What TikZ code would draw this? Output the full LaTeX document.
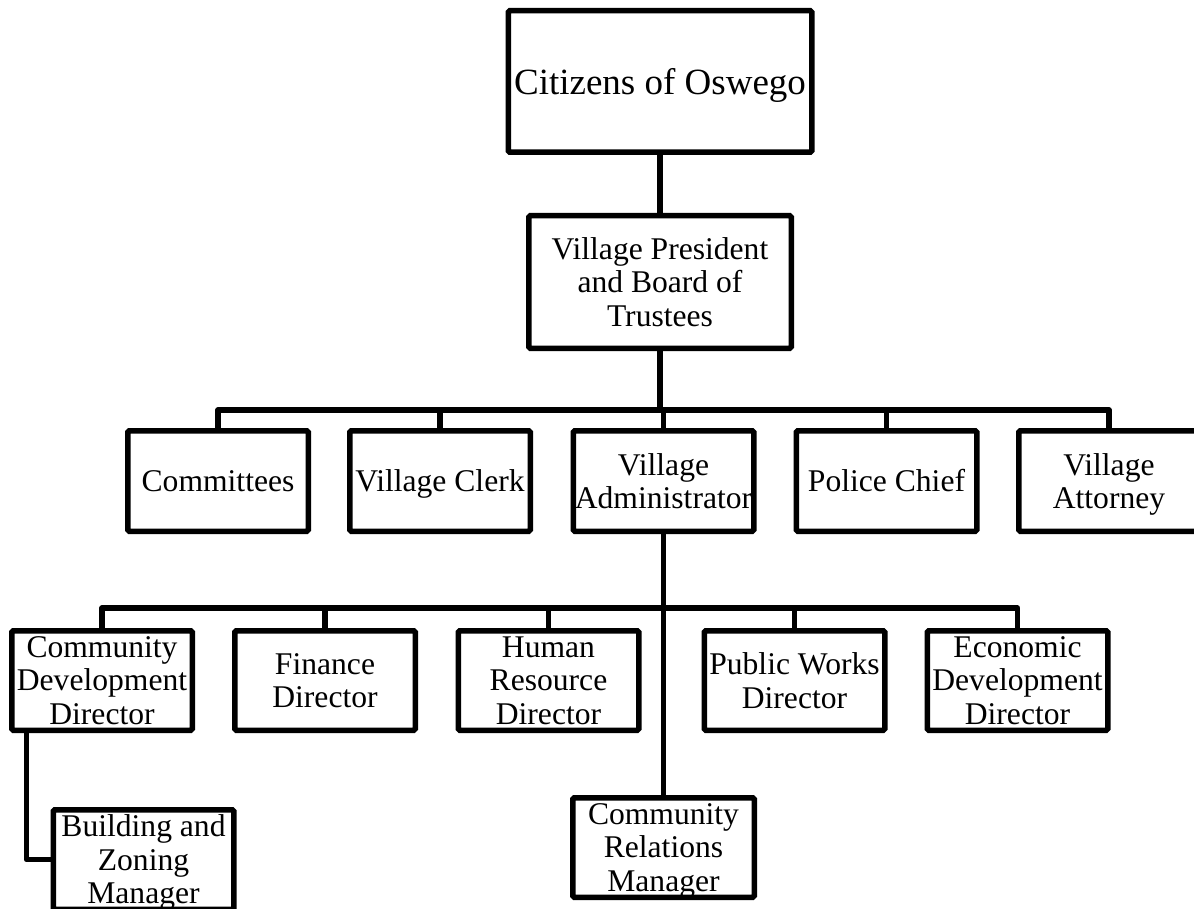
\documentclass[tikz,border=0pt]{standalone}
\usepackage{fontspec}
\setmainfont{Liberation Serif}
\newcommand{\nodep}[1]{\raisebox{0pt}[\height][0pt]{#1}}
\begin{document}
\begin{tikzpicture}[x=1pt,y=-1pt,
  box/.style={draw=black,line width=5.5pt,rounded corners=1.5pt,inner sep=0pt,align=center,
    minimum width=180.5pt,minimum height=99.5pt,
    font=\fontsize{31.6}{33.5}\selectfont},
  conn/.style={draw=black,line width=5.5pt,line join=round}]
\useasboundingbox (0,0) rectangle (1194,909);
\clip (0,0) rectangle (1194,909);
% top levels
\node[box,minimum width=303.5pt,minimum height=141.5pt,font=\fontsize{37}{40}\selectfont] (cit) at (660,81.5) {\nodep{Citizens of Oswego}};
\node[box,minimum width=262.5pt,minimum height=132.5pt] (vp) at (660,282) {Village President\\and Board of\\Trustees};
% second row
\node[box,minimum height=100.5pt] (cmt) at (218,481) {Committees};
\node[box,minimum height=100.5pt] (clk) at (440,481) {\nodep{Village Clerk}};
\node[box,minimum height=100.5pt] (adm) at (663.5,481) {Village\\Administrator};
\node[box,minimum height=100.5pt] (pol) at (886.5,481) {Police Chief};
\node[box,minimum height=100.5pt] (att) at (1109,481) {Village\\\nodep{Attorney}};
% third row
\node[box] (cdd) at (102,680.5) {Community\\Development\\Director};
\node[box] (fin) at (325,680.5) {Finance\\Director};
\node[box] (hr) at (548.5,680.5) {Human\\Resource\\Director};
\node[box] (pw) at (794.5,680.5) {Public Works\\Director};
\node[box] (edd) at (1017.5,680.5) {Economic\\Development\\Director};
% fourth row
\node[box,minimum width=181.5pt] (crm) at (663.5,847.5) {Community\\Relations\\\nodep{Manager}};
\node[box] (bzm) at (143.5,859.5) {Building and\\Zoning\\\nodep{Manager}};
% connectors
\coordinate (bus1) at (660,410);
\coordinate (bus2) at (663.5,608);
\draw[conn] (cit.south) -- (vp.north);
\draw[conn] (vp.south) -- (bus1);
\draw[conn] (cmt.north) |- (bus1) -| (att.north);
\draw[conn] (clk.north) -- (clk.north |- bus1);
\draw[conn] (adm.north) -- (adm.north |- bus1);
\draw[conn] (pol.north) -- (pol.north |- bus1);
\draw[conn] (adm.south) -- (crm.north);
\draw[conn] (cdd.north) |- (bus2) -| (edd.north);
\draw[conn] (fin.north) -- (fin.north |- bus2);
\draw[conn] (hr.north) -- (hr.north |- bus2);
\draw[conn] (pw.north) -- (pw.north |- bus2);
\coordinate (cddout) at ([xshift=17.5pt]cdd.south west);
\draw[conn] (cddout) |- (bzm.west);
\end{tikzpicture}
\end{document}
